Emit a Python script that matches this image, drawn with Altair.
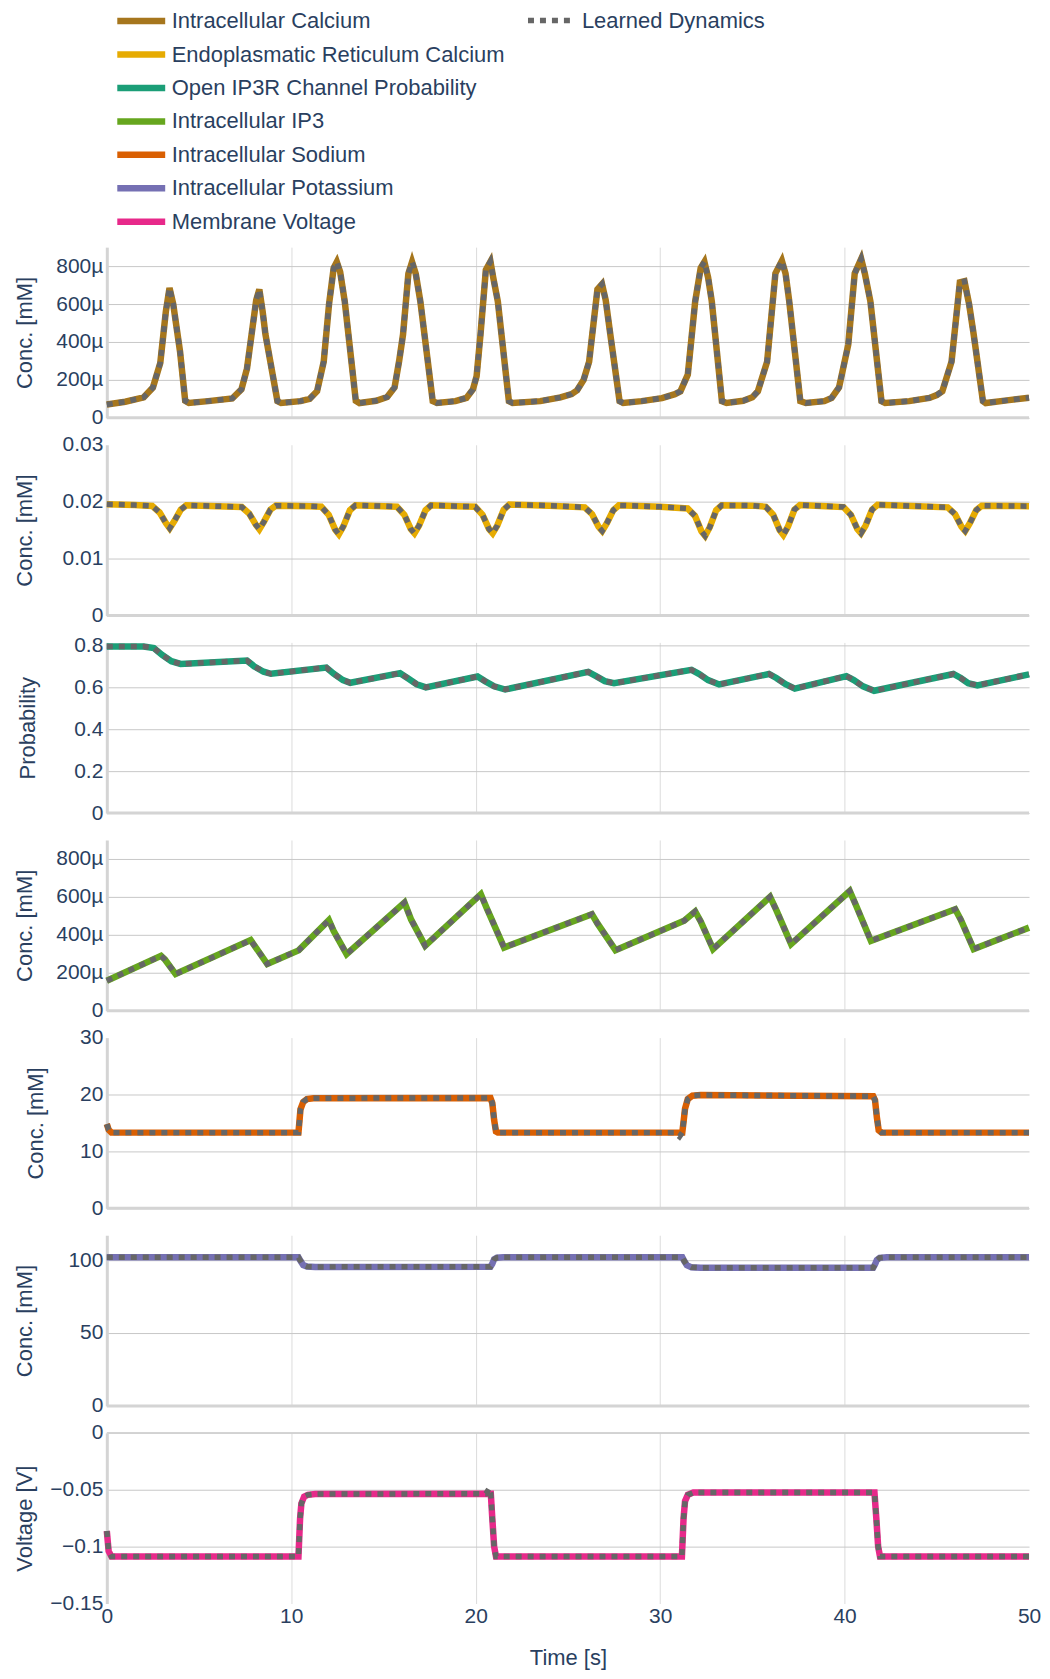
import altair as alt
import pandas as pd

NAMES = ["Intracellular Calcium", "Endoplasmatic Reticulum Calcium",
         "Open IP3R Channel Probability", "Intracellular IP3",
         "Intracellular Sodium", "Intracellular Potassium", "Membrane Voltage"]
COLORS = ["#a6761d", "#e6ab02", "#1b9e77", "#66a61e", "#d95f02", "#7570b3", "#e7298a"]
LEARNED = "Learned Dynamics"
TIME_TICKS = [0, 10, 20, 30, 40, 50]

# Panel 1: intracellular calcium, values read in micro-mM
CA_T = [0, 1.0, 2.0, 2.5, 2.9, 3.2, 3.4, 3.6, 3.97, 4.25, 4.45,
        5.5, 6.8, 7.3, 7.6, 7.85, 8.1, 8.27, 8.45, 8.6, 9.25, 9.45,
        10.5, 11.0, 11.4, 11.76, 12.05, 12.3, 12.47, 12.65, 12.9, 13.5, 13.7,
        14.6, 15.2, 15.6, 15.85, 16.06, 16.35, 16.55, 16.75, 17.0, 17.67, 17.9,
        18.9, 19.5, 19.85, 20.05, 20.26, 20.55, 20.8, 20.95, 21.2, 21.8, 22.0,
        23.5, 24.6, 25.2, 25.5, 25.85, 26.15, 26.6, 26.85, 27.05, 27.3, 27.8, 28.0,
        29.0, 30.1, 30.8, 31.1, 31.5, 31.9, 32.2, 32.4, 32.6, 32.8, 33.35, 33.6,
        34.5, 35.0, 35.3, 35.8, 36.25, 36.6, 36.8, 37.0, 37.6, 37.9,
        38.9, 39.3, 39.7, 40.2, 40.55, 40.9, 41.1, 41.4, 42.0, 42.2,
        43.5, 44.6, 45.0, 45.3, 45.8, 46.25, 46.5, 46.75, 47.0, 47.5, 47.65,
        48.8, 50.0]
CA_UM = [70, 85, 108, 160, 290, 560, 685, 600, 350, 90, 78,
         88, 102, 150, 260, 440, 620, 677, 560, 440, 88, 78,
         88, 100, 140, 296, 600, 790, 822, 770, 614, 90, 78,
         90, 110, 160, 300, 439, 760, 822, 760, 614, 88, 78,
         88, 105, 150, 220, 439, 780, 824, 740, 614, 88, 78,
         88, 108, 125, 145, 200, 296, 677, 705, 620, 439, 88, 78,
         88, 104, 125, 140, 228, 614, 790, 822, 740, 614, 88, 78,
         90, 108, 140, 296, 762, 828, 760, 614, 88, 78,
         88, 105, 160, 386, 762, 838, 760, 614, 88, 78,
         88, 105, 120, 140, 296, 714, 720, 600, 439, 88, 78,
         92, 106]

# Panel 2: ER calcium (mM)
ER_T = [0, 1.5, 2.46, 2.86, 3.21, 3.41, 3.66, 4.01, 4.31,
        6.0, 7.32, 7.72, 8.07, 8.27, 8.52, 8.87, 9.17,
        11.0, 11.63, 12.03, 12.38, 12.58, 12.83, 13.18, 13.48,
        15.0, 15.73, 16.13, 16.48, 16.68, 16.93, 17.28, 17.58,
        19.0, 19.97, 20.37, 20.72, 20.92, 21.17, 21.52, 21.82,
        24.0, 25.91, 26.31, 26.66, 26.86, 27.11, 27.46, 27.76,
        30.0, 31.49, 31.89, 32.24, 32.44, 32.69, 33.04, 33.34,
        35.0, 35.73, 36.13, 36.48, 36.68, 36.93, 37.28, 37.58,
        39.0, 39.94, 40.34, 40.69, 40.89, 41.14, 41.49, 41.79,
        44.0, 45.59, 45.99, 46.34, 46.54, 46.79, 47.14, 47.44,
        50.0]
ER_MM = [0.01955, 0.0194, 0.01925, 0.0181, 0.0162, 0.01532, 0.0166, 0.0186, 0.01935,
         0.0192, 0.01905, 0.0179, 0.0160, 0.01515, 0.0165, 0.0186, 0.0193,
         0.0192, 0.0191, 0.0177, 0.0151, 0.01427, 0.0157, 0.0185, 0.01935,
         0.0192, 0.0191, 0.0177, 0.0152, 0.01444, 0.0158, 0.0185, 0.01935,
         0.0192, 0.0191, 0.0177, 0.0152, 0.01444, 0.0158, 0.0186, 0.0195,
         0.0193, 0.0190, 0.0178, 0.0156, 0.01485, 0.0162, 0.0185, 0.01935,
         0.0191, 0.0188, 0.0175, 0.0148, 0.01398, 0.0155, 0.0185, 0.01935,
         0.0193, 0.0191, 0.0177, 0.0150, 0.01415, 0.0156, 0.0186, 0.0194,
         0.0192, 0.01905, 0.0177, 0.0152, 0.01444, 0.0158, 0.0186, 0.01945,
         0.0192, 0.0190, 0.0178, 0.0156, 0.01485, 0.0162, 0.0185, 0.0193,
         0.0192]

# Panel 3: open IP3R channel probability
P_T = [0, 2.0, 2.55, 3.0, 3.5, 4.0, 7.6, 8.0, 8.5, 8.9, 11.9, 12.3, 12.8, 13.2,
       15.9, 16.3, 16.8, 17.3, 20.1, 20.5, 21.0, 21.6, 26.1, 26.5, 27.0, 27.5,
       31.7, 32.1, 32.6, 33.2, 35.9, 36.3, 36.8, 37.3, 40.1, 40.5, 41.0, 41.6,
       45.9, 46.3, 46.7, 47.2, 50.0]
P_VAL = [0.795, 0.795, 0.788, 0.755, 0.725, 0.712, 0.728, 0.700, 0.675, 0.665,
         0.695, 0.665, 0.635, 0.622, 0.668, 0.645, 0.615, 0.600, 0.652, 0.630,
         0.605, 0.590, 0.674, 0.655, 0.630, 0.620, 0.684, 0.665, 0.635, 0.614,
         0.664, 0.645, 0.615, 0.594, 0.654, 0.635, 0.605, 0.584, 0.664, 0.645,
         0.620, 0.610, 0.662]

# Panel 4: intracellular IP3, values read in micro-mM
IP3_T = [0, 2.94, 3.15, 3.73, 7.8, 8.1, 8.7, 10.4, 12.04, 12.3, 13.0, 16.14, 16.5,
         17.26, 20.28, 20.6, 21.54, 26.3, 26.6, 27.58, 31.3, 31.9, 32.2, 32.87,
         35.96, 36.3, 37.1, 40.28, 40.6, 41.43, 46.0, 46.3, 47.0, 50.0]
IP3_UM = [158, 289, 270, 193, 372, 330, 246, 318, 477, 420, 298, 570, 480,
          342, 614, 540, 333, 509, 460, 319, 474, 523, 470, 325,
          600, 530, 351, 631, 560, 368, 535, 480, 325, 438]

# Panel 5: intracellular sodium (mM)
NA_T = [0, 0.1, 0.25, 10.39, 10.45, 10.5, 10.65, 10.85, 11.2, 20.8, 20.9, 21.0,
        21.1, 21.2, 31.2, 31.28, 31.35, 31.5, 31.75, 32.2, 41.55, 41.65, 41.75,
        41.85, 42.0, 50.0]
NA_MM = [14.8, 13.8, 13.3, 13.3, 15.5, 17.4, 18.7, 19.2, 19.35, 19.4, 18.5, 15.5,
         13.5, 13.3, 13.3, 15.5, 17.5, 19.2, 19.8, 19.9, 19.7, 19.0, 16.0,
         13.7, 13.3, 13.3]

# Panel 6: intracellular potassium (mM)
K_T = [0, 10.39, 10.5, 10.65, 10.85, 11.3, 20.8, 20.9, 21.0, 21.15, 21.5,
       31.2, 31.3, 31.45, 31.7, 32.2, 41.55, 41.65, 41.75, 41.9, 42.3, 50.0]
K_MM = [101.9, 101.9, 99.5, 96.5, 95.5, 95.3, 95.4, 97.5, 100.5, 101.6, 101.9,
        101.9, 99.5, 96.5, 95.0, 94.7, 94.7, 97.0, 100.0, 101.5, 101.9, 101.9]

# Panel 7: membrane voltage (V)
V_T = [0, 0.1, 0.25, 10.39, 10.48, 10.55, 10.7, 10.9, 11.3, 20.82, 20.9, 21.0,
       21.1, 31.18, 31.27, 31.35, 31.5, 31.8, 41.62, 41.72, 41.82, 41.92, 50.0]
V_VAL = [-0.0863, -0.104, -0.1086, -0.1086, -0.075, -0.062, -0.056, -0.0545,
         -0.0538, -0.0535, -0.075, -0.100, -0.1086, -0.1086, -0.075, -0.060,
         -0.0545, -0.0525, -0.0525, -0.075, -0.100, -0.1086, -0.1086]

# learned-dynamics deviations (extra points of the dotted line)
NA_LEARNED_EXTRA = [(30.8, 13.3), (31.05, 12.6)]
V_LEARNED_EXTRA = [(20.55, -0.0535), (20.74, -0.0485)]

FONT = "Liberation Sans"
TXT = "#2a3f5f"
MICRO = 1e-6
FMT_SI = "format(datum.value, '~s')"
FMT_G = "format(datum.value, '~g')"

panels = [
    dict(t=CA_T, v=[u * MICRO for u in CA_UM], title="Conc. [mM]", dom=[0, 0.0009],
         ticks=[0, 0.0002, 0.0004, 0.0006, 0.0008], fmt=FMT_SI, tx=-82.5, hide=[], extra=[]),
    dict(t=ER_T, v=ER_MM, title="Conc. [mM]", dom=[0, 0.03],
         ticks=[0, 0.01, 0.02, 0.03], fmt=FMT_G, tx=-82.5, hide=[0.03], extra=[]),
    dict(t=P_T, v=P_VAL, title="Probability", dom=[0, 0.815],
         ticks=[0, 0.2, 0.4, 0.6, 0.8], fmt=FMT_G, tx=-79.5, hide=[], extra=[]),
    dict(t=IP3_T, v=[u * MICRO for u in IP3_UM], title="Conc. [mM]", dom=[0, 0.0009],
         ticks=[0, 0.0002, 0.0004, 0.0006, 0.0008], fmt=FMT_SI, tx=-82.5, hide=[], extra=[]),
    dict(t=NA_T, v=NA_MM, title="Conc. [mM]", dom=[0, 30],
         ticks=[0, 10, 20, 30], fmt=FMT_G, tx=-71.5, hide=[30], extra=NA_LEARNED_EXTRA),
    dict(t=K_T, v=K_MM, title="Conc. [mM]", dom=[0, 117],
         ticks=[0, 50, 100], fmt=FMT_G, tx=-82.5, hide=[], extra=[]),
    dict(t=V_T, v=V_VAL, title="Voltage [V]", dom=[-0.15, 0],
         ticks=[-0.15, -0.1, -0.05, 0], fmt=FMT_G, tx=-82.5, hide=[-0.15], extra=V_LEARNED_EXTRA),
]

legend_common = dict(orient="none", legendY=-240, title=None, direction="vertical",
                     symbolType="M-2.4,0L2.4,0", symbolSize=400, labelFontSize=22,
                     labelColor=TXT, labelFont=FONT, labelOffset=17, rowPadding=6.5,
                     labelLimit=1000, padding=0)
color_enc = alt.Color(
    "series:N", scale=alt.Scale(domain=NAMES, range=COLORS),
    legend=alt.Legend(legendX=21, symbolStrokeWidth=6.5, **legend_common))
dash_enc = alt.StrokeDash(
    "kind:N", scale=alt.Scale(domain=[LEARNED], range=[[6, 6]]),
    legend=alt.Legend(legendX=433, symbolStrokeWidth=5.5, symbolStrokeColor="#666666",
                      **legend_common))

x_grid_op = {"condition": {"test": "datum.value == 0 || datum.value == 50", "value": 0}, "value": 1}

charts = []
for i, p in enumerate(panels):
    last = i == len(panels) - 1
    df = pd.DataFrame({"t": p["t"], "v": p["v"], "series": NAMES[i]})
    lt, lv = list(p["t"]), list(p["v"])
    for (et, ev) in p["extra"]:
        lt.append(et)
        lv.append(ev)
    dfl = pd.DataFrame({"t": lt, "v": lv, "kind": LEARNED}).sort_values("t")
    axis_kw = dict(title=p["title"], values=p["ticks"], labelExpr=p["fmt"],
                   ticks=False, domain=True, domainColor="#d4d4d4", domainWidth=3,
                   labelPadding=4, labelFlush=False, labelOverlap=False,
                   grid=True, gridColor="#c8c8c8", gridWidth=1,
                   titleX=p["tx"], titleBaseline="middle")
    if p["hide"]:
        test = " || ".join(f"abs(datum.value - ({h})) < 0.000001" for h in p["hide"])
        axis_kw["gridOpacity"] = {"condition": {"test": test, "value": 0}, "value": 1}
    y_axis = alt.Axis(**axis_kw)
    if last:
        x_axis = alt.Axis(title="Time [s]", values=TIME_TICKS, labelExpr=FMT_G, ticks=False,
                          domain=False, labelPadding=2, labelFlush=False,
                          labelOverlap=False, titlePadding=21, grid=True,
                          gridColor="#dcdcdc", gridWidth=1, gridOpacity=x_grid_op)
    else:
        x_axis = alt.Axis(title=None, values=TIME_TICKS, labels=False, ticks=False,
                          domain=False, grid=True, gridColor="#dcdcdc", gridWidth=1,
                          gridOpacity=x_grid_op)
    x_enc = alt.X("t:Q", scale=alt.Scale(domain=[0, 50], nice=False, zero=False), axis=x_axis)
    y_enc = alt.Y("v:Q", scale=alt.Scale(domain=p["dom"], nice=False, zero=False), axis=y_axis)

    zero = alt.Chart(pd.DataFrame({"v": [0.0]})).mark_rule(
        color="#d4d4d4", strokeWidth=3 if not last else 1.5).encode(y=y_enc)
    solid = alt.Chart(df).mark_line(strokeWidth=6.5).encode(x=x_enc, y=y_enc, color=color_enc)
    dotted = alt.Chart(dfl).mark_line(strokeWidth=5.5, color="#666666").encode(
        x=x_enc, y=y_enc, strokeDash=dash_enc)
    charts.append(alt.layer(zero, solid, dotted).properties(width=924, height=171))

chart = (
    alt.vconcat(*charts, spacing=27, bounds="flush")
    .resolve_scale(color="shared", strokeDash="shared")
    .properties(padding={"left": 5, "top": -2, "right": 0, "bottom": 0})
    .configure(font=FONT)
    .configure_view(strokeWidth=0)
    .configure_axis(labelFont=FONT, labelFontSize=21, labelColor=TXT,
                    titleFont=FONT, titleFontSize=22, titleColor=TXT,
                    titleFontWeight="normal")
)

chart.save("out.html", embed_options={"renderer": "svg", "actions": False})
